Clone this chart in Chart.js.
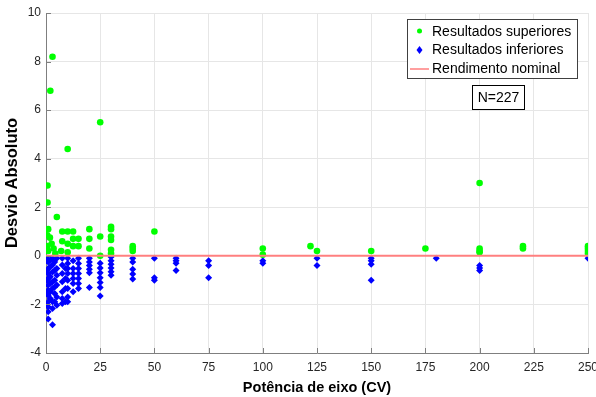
<!DOCTYPE html>
<html>
<head>
<meta charset="utf-8">
<script src="https://cdn.jsdelivr.net/npm/chart.js@4.4.1/dist/chart.umd.min.js"></script>
<style>
    html, body { margin: 0; padding: 0; background: #ffffff; }
    #wrap { width: 596px; height: 397px; position: relative; }
</style>
</head>
<body>
<div id="wrap"><canvas id="scatter-chart"></canvas></div>
<script>
// Resultados superiores (green dots)
const supX = [3, 2, 25, 10, 0.7, 0.7, 5, 1, 0.6, 1.8, 2.6, 3.5, 4.3, 0.5, 1,
    7.5, 10, 12.5, 7.5, 10, 12.5, 15, 12.5, 15, 7, 10,
    20, 20, 20, 25, 25, 30, 30, 30, 30, 30, 30, 40, 40, 40, 50,
    100, 100, 122, 125, 150, 175, 200, 200, 200, 200, 220, 220, 250, 250, 250, 250];
const supY = [8.2, 6.8, 5.5, 4.4, 2.9, 2.2, 1.6, 1.1, 0.85, 0.75, 0.5, 0.3, 0.1, 0.4, 0.2,
    1.0, 1.0, 1.0, 0.6, 0.5, 0.7, 0.7, 0.4, 0.4, 0.2, 0.15,
    1.1, 0.7, 0.3, 0.8, 0.0, 1.2, 1.1, 0.8, 0.65, 0.25, 0.1, 0.4, 0.3, 0.2, 1.0,
    0.3, 0.05, 0.4, 0.2, 0.2, 0.3, 3.0, 0.3, 0.2, 0.15, 0.4, 0.3, 0.4, 0.3, 0.2, 0.1];

// Resultados inferiores (blue diamonds)
const infX = [
    1, 1, 1, 1, 1, 1, 1, 1, 1, 1, 1,
    0.5, 0.5, 0.5, 0.5, 0.5,
    2, 2, 2, 2, 2, 2,
    3, 3, 3, 3, 3, 3, 3, 3,
    4, 4, 4, 4, 4, 4,
    5, 5, 5, 5, 5, 5,
    7.5, 7.5, 7.5, 7.5, 7.5, 7.5, 7.5,
    9, 9, 9, 9,
    10, 10, 10, 10, 10, 10, 10, 10,
    12.5, 12.5, 12.5, 12.5, 12.5, 12.5,
    15, 15, 15, 15, 15, 15, 15,
    20, 20, 20, 20, 20, 20,
    25, 25, 25, 25, 25, 25, 25,
    30, 30, 30, 30, 30, 30,
    40, 40, 40, 40, 40,
    50, 50, 50,
    60, 60, 60, 60,
    75, 75, 75,
    100, 100,
    125, 125,
    150, 150, 150, 150,
    180,
    200, 200, 200,
    250];
const infY = [
    -0.25, -0.52, -0.73, -0.93, -1.2, -1.41, -1.62, -1.89, -2.1, -2.3, -2.6,
    -0.1, -0.6, -1.0, -1.5, -2.0,
    -0.18, -0.45, -0.86, -1.14, -1.48, -1.76,
    -0.1, -0.38, -0.66, -1.07, -1.34, -1.89, -2.17, -2.84,
    -0.25, -0.6, -1.0, -1.28, -1.55, -1.89,
    -0.1, -0.52, -0.8, -1.2, -1.69, -2.03,
    -0.1, -0.38, -0.73, -1.07, -1.48, -1.76, -1.96,
    -0.52, -0.93, -1.34, -1.89,
    -0.1, -0.31, -0.52, -0.73, -1.0, -1.34, -1.69, -1.89,
    -0.2, -0.52, -0.73, -0.93, -1.14, -1.48,
    -0.1, -0.31, -0.52, -0.73, -0.93, -1.14, -1.34,
    -0.1, -0.25, -0.4, -0.55, -0.7, -1.3,
    -0.3, -0.5, -0.7, -0.9, -1.1, -1.3, -1.65,
    -0.05, -0.2, -0.35, -0.5, -0.65, -0.8,
    -0.1, -0.25, -0.55, -0.75, -0.95,
    -0.1, -0.9, -1.0,
    -0.1, -0.2, -0.3, -0.6,
    -0.2, -0.4, -0.9,
    -0.2, -0.3,
    -0.1, -0.4,
    -0.1, -0.2, -0.35, -1.0,
    -0.1,
    -0.4, -0.5, -0.6,
    -0.1];

// Rendimento nominal (reference line)
const nominalX = [0, 250];
const nominalY = [0, 0];

const legendLabels = ['Resultados superiores', 'Resultados inferiores', 'Rendimento nominal'];
const sampleLabel = 'N=227';

const FONT = "'Liberation Sans', Arial, sans-serif";
const COLORS = {
    sup: '#00ff00',
    inf: '#0000ff',
    nominal: '#ff7f7f',
    grid: '#e6e6e6',
    axis: '#7f7f7f',
    text: '#262626'
};

function toPoints(xs, ys) {
    return xs.map((x, i) => ({ x: x, y: ys[i] }));
}

/**
 * Legend box, N annotation and the small inward tick marks
 */
const boxesPlugin = {
    id: 'boxes',
    afterDraw(chart) {
        const ctx = chart.ctx;
        const area = chart.chartArea;
        const xs = chart.scales.x;
        const ys = chart.scales.y;
        ctx.save();

        // inward tick marks (MATLAB style)
        ctx.strokeStyle = COLORS.axis;
        ctx.lineWidth = 1;
        ctx.beginPath();
        ys.ticks.forEach(t => {
            const py = Math.round(ys.getPixelForValue(t.value)) + 0.5;
            ctx.moveTo(area.left, py);
            ctx.lineTo(area.left + 5, py);
        });
        xs.ticks.forEach(t => {
            const px = Math.round(xs.getPixelForValue(t.value)) + 0.5;
            ctx.moveTo(px, area.bottom);
            ctx.lineTo(px, area.bottom - 5);
        });
        ctx.stroke();

        // legend box
        ctx.fillStyle = '#ffffff';
        ctx.fillRect(407, 19, 170, 59);
        ctx.strokeStyle = '#404040';
        ctx.lineWidth = 1;
        ctx.strokeRect(407.5, 19.5, 170, 59);

        ctx.font = '14px ' + FONT;
        ctx.fillStyle = '#000000';
        ctx.textBaseline = 'middle';
        ctx.textAlign = 'left';
        const rows = [32, 50, 69];
        legendLabels.forEach((label, i) => {
            ctx.fillText(label, 432, rows[i]);
        });

        // markers
        ctx.fillStyle = COLORS.sup;
        ctx.beginPath();
        ctx.arc(419.5, rows[0] - 1, 2.5, 0, Math.PI * 2);
        ctx.fill();
        ctx.fillStyle = COLORS.inf;
        ctx.beginPath();
        ctx.moveTo(419.5, rows[1] - 4);
        ctx.lineTo(422.5, rows[1]);
        ctx.lineTo(419.5, rows[1] + 4);
        ctx.lineTo(416.5, rows[1]);
        ctx.closePath();
        ctx.fill();
        ctx.strokeStyle = COLORS.nominal;
        ctx.lineWidth = 1.5;
        ctx.beginPath();
        ctx.moveTo(410, rows[2]);
        ctx.lineTo(429, rows[2]);
        ctx.stroke();

        // N box
        ctx.fillStyle = '#ffffff';
        ctx.fillRect(472, 85, 52, 24);
        ctx.strokeStyle = '#000000';
        ctx.lineWidth = 1;
        ctx.strokeRect(472.5, 85.5, 52, 24);
        ctx.fillStyle = '#000000';
        ctx.textAlign = 'center';
        ctx.fillText(sampleLabel, 498.5, 98);
        ctx.restore();
    }
};

const ctx = document.getElementById('scatter-chart').getContext('2d');

new Chart(ctx, {
    type: 'scatter',
    data: {
        datasets: [
            {
                type: 'line',
                label: legendLabels[2],
                data: toPoints(nominalX, nominalY),
                borderColor: COLORS.nominal,
                borderWidth: 2,
                pointRadius: 0,
                fill: false
            },
            {
                label: legendLabels[0],
                data: toPoints(supX, supY),
                backgroundColor: COLORS.sup,
                borderColor: COLORS.sup,
                borderWidth: 0,
                pointRadius: 3.3,
                pointStyle: 'circle'
            },
            {
                label: legendLabels[1],
                data: toPoints(infX, infY),
                backgroundColor: COLORS.inf,
                borderColor: COLORS.inf,
                borderWidth: 0,
                pointRadius: 3.5,
                pointStyle: 'rectRot'
            }
        ]
    },
    options: {
        responsive: true,
        maintainAspectRatio: false,
        animation: false,
        layout: {
            padding: { left: 0, right: 8, top: 13, bottom: 0 }
        },
        plugins: {
            legend: { display: false },
            tooltip: { enabled: false }
        },
        scales: {
            x: {
                type: 'linear',
                min: 0,
                max: 250,
                grid: {
                    color: COLORS.grid,
                    tickLength: 0
                },
                border: {
                    color: COLORS.axis,
                    width: 1
                },
                ticks: {
                    stepSize: 25,
                    color: COLORS.text,
                    padding: 7,
                    maxRotation: 0,
                    font: { family: FONT, size: 12 }
                },
                title: {
                    display: true,
                    text: 'Potência de eixo (CV)',
                    color: '#000000',
                    padding: { top: 2, bottom: 0 },
                    font: { family: FONT, size: 14.5, weight: 'bold' }
                },
                afterFit: function(scale) {
                    scale.height = 44;
                    scale.paddingLeft = 0;
                    scale.paddingRight = 0;
                }
            },
            y: {
                type: 'linear',
                min: -4,
                max: 10,
                grid: {
                    color: COLORS.grid,
                    tickLength: 0
                },
                border: {
                    color: COLORS.axis,
                    width: 1
                },
                ticks: {
                    stepSize: 2,
                    color: COLORS.text,
                    padding: 5,
                    font: { family: FONT, size: 12 }
                },
                title: {
                    display: true,
                    text: 'Desvio Absoluto',
                    color: '#000000',
                    padding: { top: 3, bottom: 2 },
                    font: { family: FONT, size: 16.5, weight: 'bold' }
                },
                afterFit: function(scale) {
                    scale.width = 46;
                    scale.paddingTop = 0;
                    scale.paddingBottom = 0;
                }
            }
        }
    },
    plugins: [boxesPlugin]
});
</script>
</body>
</html>
